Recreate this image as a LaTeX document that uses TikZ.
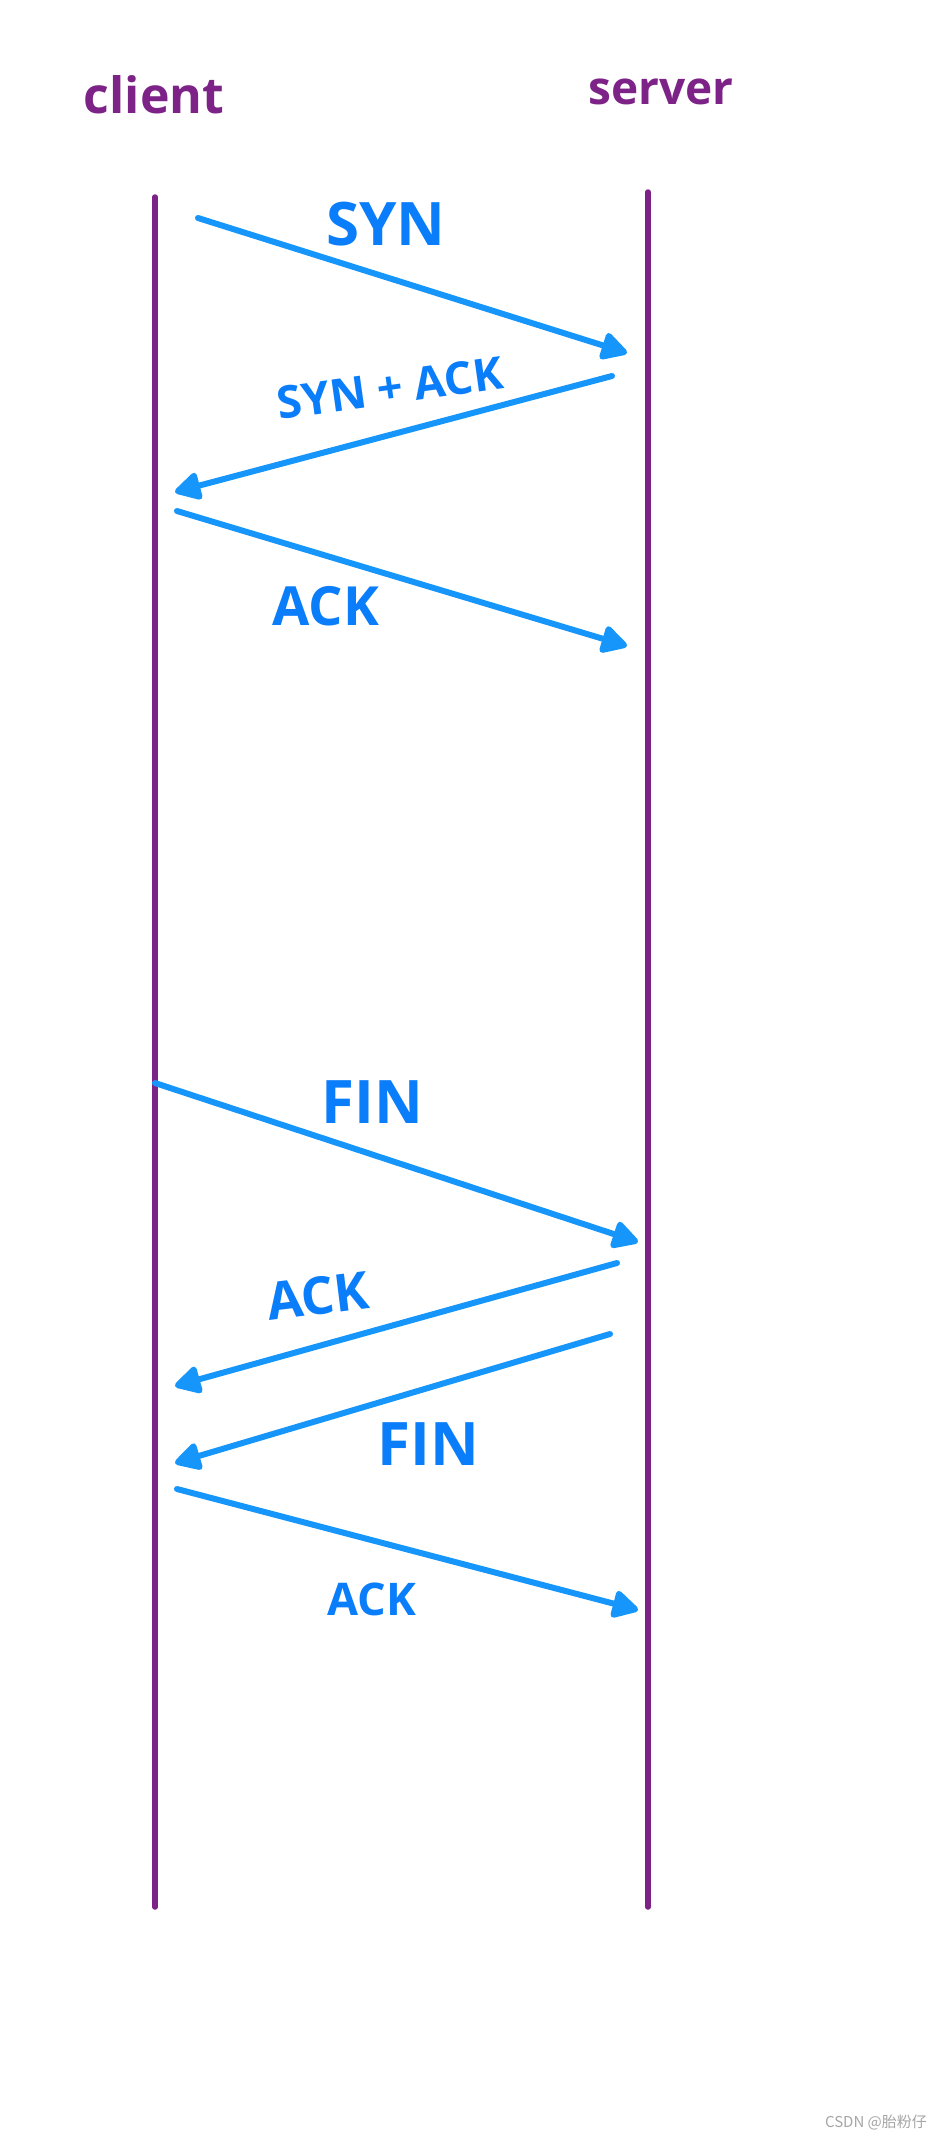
\documentclass[tikz,border=0pt]{standalone}
\usepackage{fontspec}
\setmainfont{Open Sans}
\newfontfamily\cjkfont{Noto Sans CJK SC}
\usetikzlibrary{arrows.meta}
\definecolor{lifepurple}{RGB}{125,35,135}
\definecolor{msgblue}{RGB}{22,150,250}
\definecolor{lblblue}{RGB}{10,125,250}
\tikzset{
  lifeline/.style={draw=lifepurple, line width=5.5pt, line cap=round},
  msg/.style={draw=msgblue, line width=6pt, line cap=round,
    -{Triangle[length=29pt,width=30pt,round]}},
  lbl/.style={text=lblblue, inner sep=0pt, font=\fontsize{#1}{#1}\selectfont\bfseries},
  actor/.style={text=lifepurple, inner sep=0pt, font=\fontsize{#1}{#1}\selectfont\bfseries},
}
\begin{document}
\begin{tikzpicture}[x=1pt,y=-1pt]
\useasboundingbox[fill=white] (0,0) rectangle (939,2137);
% actors
\node[actor=50] (client) at (154,95) {client};
\node[actor=46] (server) at (661,92) {server};
% lifelines
\coordinate (ct) at (155,197);
\coordinate (cb) at (155,1907);
\coordinate (st) at (648,192);
\coordinate (sb) at (648,1907);
\draw[lifeline] (ct) -- (cb);
\draw[lifeline] (st) -- (sb);
% message endpoints
\coordinate (a1) at (198,218);   \coordinate (b1) at (627,353);
\coordinate (a2) at (612,376);   \coordinate (b2) at (175,492);
\coordinate (a3) at (177,511);   \coordinate (b3) at (627,646);
\coordinate (a4) at (155,1083);  \coordinate (b4) at (638,1242);
\coordinate (a5) at (617,1263);  \coordinate (b5) at (175,1386);
\coordinate (a6) at (610,1334);  \coordinate (b6) at (175,1463);
\coordinate (a7) at (177,1489);  \coordinate (b7) at (638,1610);
\draw[msg] (a1) -- (b1);
\draw[msg] (a2) -- (b2);
\draw[msg] (a3) -- (b3);
\draw[msg] (a4) -- (b4);
\draw[msg] (a5) -- (b5);
\draw[msg] (a6) -- (b6);
\draw[msg] (a7) -- (b7);
% labels
\node[lbl=60] (l1) at (386,224) {SYN};
\node[lbl=45, rotate=8] (l2) at (390,388) {SYN + ACK};
\node[lbl=54] (l3) at (326,606) {ACK};
\node[lbl=60] (l4) at (372,1102) {FIN};
\node[lbl=52, rotate=7] (l5) at (318,1296) {ACK};
\node[lbl=60] (l6) at (428,1444) {FIN};
\node[lbl=45] (l7) at (372,1599) {ACK};
% watermark
\node[text=black!35, inner sep=0pt, font=\fontsize{15}{15}\selectfont\cjkfont] (wm) at (876,2122) {CSDN @胎粉仔};
\end{tikzpicture}
\end{document}
